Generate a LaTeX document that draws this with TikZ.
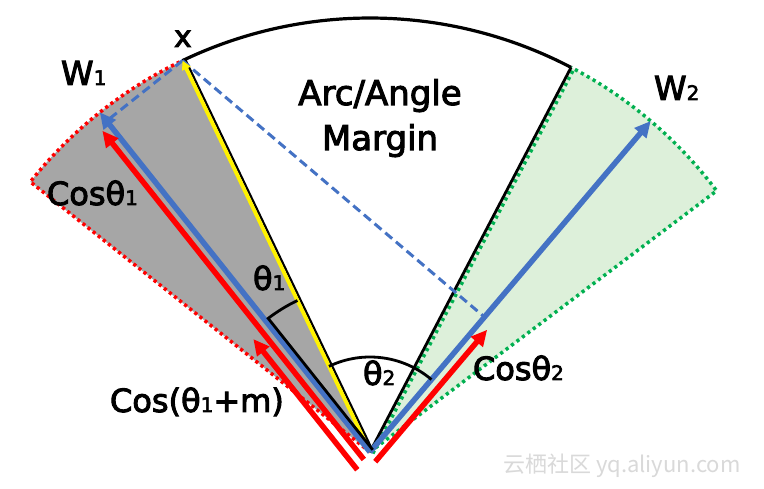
\documentclass[tikz,border=0pt]{standalone}
\usepackage{fontspec}
\setmainfont{DejaVu Sans}
\newfontfamily\lblfont{DejaVu Sans}[FakeBold=3]
\newfontfamily\cjk{Noto Sans CJK SC}
\usetikzlibrary{calc,arrows.meta}
\definecolor{myblue}{HTML}{4472C4}
\definecolor{mygreen}{HTML}{00B050}
\definecolor{mygray}{HTML}{A6A6A6}
\definecolor{lightgreen}{HTML}{DDF0DA}
\newcommand\sbs[1]{{\fontsize{20}{20}\selectfont #1}}
\begin{document}
\begin{tikzpicture}[x=1pt,y=1pt,
 lbl/.style={inner sep=0pt,outer sep=0pt,anchor=base west,font=\lblfont\fontsize{32}{32}\selectfont},
 reddot/.style={red,line width=3.5pt,dash pattern=on 3.2pt off 3.3pt},
 greendot/.style={mygreen,line width=3.5pt,dash pattern=on 3.2pt off 3.6pt},
 vecblue/.style={myblue,line width=5.5pt,-{Triangle[length=16pt,width=15pt]}},
 vecred/.style={red,line width=5.5pt,-{Triangle[length=16pt,width=15pt]}},
 dashblue/.style={myblue,line width=3pt,dash pattern=on 9pt off 5pt},
 blk/.style={black,line width=2.8pt}]
\useasboundingbox (0,0) rectangle (764,488);
\fill[white] (0,0) rectangle (764,488);
% key points
\coordinate (O) at (370,36);
\coordinate (X) at ($(O)+(115.6:434)$);
\coordinate (W1) at ($(O)+(128.5:434)$);
\coordinate (W2) at ($(O)+(49.7:434)$);
\coordinate (GL) at ($(O)+(141.5:434)$);
\coordinate (B2) at ($(O)+(62.4:434)$);
\coordinate (GR) at ($(O)+(37:434)$);
\coordinate (P1) at ($(O)+(128.5:423)$);
\coordinate (P2) at ($(O)+(49.7:177)$);
% sectors
\fill[mygray] (O) -- (GL) arc[start angle=141.5,end angle=115.6,radius=434pt] -- cycle;
\fill[lightgreen] (O) -- (GR) arc[start angle=37,end angle=62.4,radius=434pt] -- cycle;
\draw[reddot] (O) -- (GL) arc[start angle=141.5,end angle=115.6,radius=434pt];
\draw[greendot] (O) -- (GR) arc[start angle=37,end angle=62.4,radius=434pt];
\draw[greendot] ($(O)+(-27.6:3.2)$) -- ($(B2)+(-27.6:3.2)$);
% black margin arc and edges
\draw[blk,line width=3.2pt] (X) arc[start angle=115.6,end angle=62.4,radius=434pt];
\draw[blk] (O) -- (B2);
\draw[blk,line width=2.2pt] ($(O)+(25.6:3)$) -- ($(X)+(25.6:3)$);
% projections
\draw[dashblue] (X) -- (P1);
\draw[dashblue] (X) -- (P2);
% feature x
\draw[yellow,line width=3.8pt,-{Triangle[length=9pt,width=9pt]}] (O) -- (X);
% weight vectors
\draw[vecblue] (O) -- (W1);
\draw[vecblue] (O) -- (W2);
% cosine arrows
\draw[vecred] ($(O)+(128.5:-2)+(218.5:9.5)$) -- ($(O)+(128.5:418)+(218.5:9.5)$);
\draw[vecred] ($(O)+(128.5:-6)+(218.5:21)$) -- ($(O)+(128.5:161)+(218.5:21)$);
\draw[vecred] ($(O)+(49.7:-4)+(-40.3:10.3)$) -- ($(O)+(49.7:169)+(-40.3:10.3)$);
% angle markers
\draw[blk] ($(O)+(38.5:3.5)$) -- ($(O)+(127.3:168)$) arc[start angle=127.3,end angle=115.6,radius=168pt];
\draw[blk] ($(O)+(115.6:95)$) arc[start angle=115.6,end angle=49.7,radius=95pt];
% labels
\node[lbl,font=\lblfont\fontsize{30}{30}\selectfont] (lx) at (174,441) {x};
\node[lbl,font=\lblfont\fontsize{33}{33}\selectfont] (lw1) at (61,403) {W\sbs{1}};
\node[lbl,font=\lblfont\fontsize{33}{33}\selectfont] (lw2) at (654,388) {W\sbs{2}};
\node[inner sep=0pt,anchor=base,font=\lblfont\fontsize{34}{34}\selectfont] (arc1) at (380,383) {Arc/Angle};
\node[inner sep=0pt,anchor=base,font=\lblfont\fontsize{34}{34}\selectfont] (arc2) at (380,338) {Margin};
\node[lbl] (lc1) at (47,283) {Cosθ\sbs{1}};
\node[lbl] (lt1) at (253,198) {θ\sbs{1}};
\node[lbl] (lt2) at (363,103) {θ\sbs{2}};
\node[lbl] (lc2) at (473,108) {Cosθ\sbs{2}};
\node[lbl] (lcm) at (110,76) {Cos(θ\sbs{1}+m)};
\node[inner sep=0pt,anchor=base west,text=gray!30,font=\cjk\fontsize{22}{22}\selectfont] (wm) at (503,16) {云栖社区 yq.aliyun.com};
\end{tikzpicture}
\end{document}
